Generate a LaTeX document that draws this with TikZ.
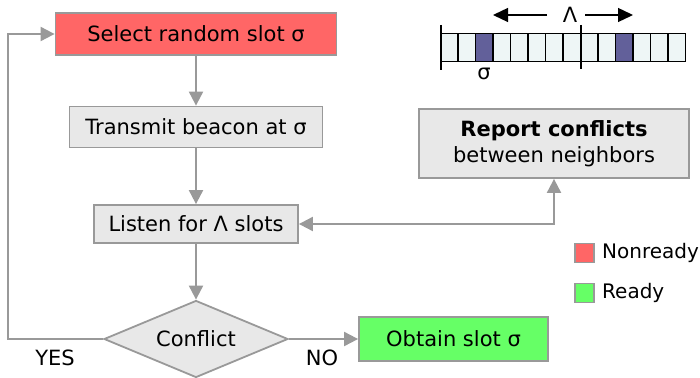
\documentclass[tikz,border=0pt]{standalone}
\usepackage{fontspec}
\setmainfont{DejaVu Sans}
\usetikzlibrary{arrows.meta,shapes.geometric}
\definecolor{edgegray}{HTML}{999999}
\definecolor{boxgray}{HTML}{E8E8E8}
\definecolor{nonready}{HTML}{FF6666}
\definecolor{ready}{HTML}{66FF66}
\definecolor{slotlight}{HTML}{EEF6F6}
\definecolor{slotdark}{HTML}{62609A}
\tikzset{
  box/.style={draw=edgegray, line width=1.8pt, fill=boxgray, inner sep=0pt, font=\fontsize{21}{25}\selectfont},
  flow/.style={draw=edgegray, line width=2pt, -{Triangle[length=14pt,width=14pt]}},
  twoway/.style={draw=edgegray, line width=2pt, {Triangle[length=14pt,width=14pt]}-{Triangle[length=14pt,width=14pt]}},
  lbl/.style={font=\fontsize{21}{25}\selectfont, inner sep=0pt},
  keytext/.style={font=\fontsize{20}{24}\selectfont, inner sep=0pt, anchor=west},
  keybox/.style={draw=edgegray, line width=1.4pt, minimum size=19pt, inner sep=0pt},
  slot/.style={draw=black, line width=1.3pt, fill=slotlight},
  tick/.style={draw=black, line width=2pt},
  lam/.style={draw=black, line width=1.3pt, -{Triangle[length=15pt,width=14pt]}}
}
\begin{document}
\begin{tikzpicture}[x=1pt,y=-1pt]
\useasboundingbox (0,0) rectangle (700,377);

% flow boxes, all centred on one vertical axis
\node[box, fill=nonready, minimum width=281pt, minimum height=42pt] (select) at (196,34) {Select random slot σ};
\node[box, minimum width=253pt, minimum height=41pt] (transmit) at (196,127) {Transmit beacon at σ};
\node[box, minimum width=204pt, minimum height=38pt] (listen) at (196,224) {Listen for Λ slots};
\node[box, diamond, aspect=2.4, minimum width=184pt, minimum height=77pt] (conflict) at (196,339) {};
\node[lbl] (conflicttext) at (conflict.center) {Conflict};
\node[box, fill=ready, minimum width=189pt, minimum height=44pt] (obtain) at (453.5,339) {Obtain slot σ};
\node[box, minimum width=270pt, minimum height=69pt, align=center] (report) at (554,143.5)
  {\textbf{Report conflicts}\\[1pt]between neighbors};

% connectors
\draw[flow] (select.south) -- (transmit.north);
\draw[flow] (transmit.south) -- (listen.north);
\draw[flow] (listen.south) -- (conflict.north);
\draw[flow] (conflict.east) -- (obtain.west);
\coordinate (loopbot) at (8,339);
\coordinate (looptop) at (8,34);
\draw[flow] (conflict.west) -- (loopbot) -- (looptop) -- (select.west);
\coordinate (bend) at (554,224);
\draw[twoway] (listen.east) -- (bend) -- (report.south);

% branch labels
\node[lbl] (yes) at (55,358) {YES};
\node[lbl] (no) at (322,358) {NO};

% legend
\node[keybox, fill=nonready] (kred) at (584.5,253) {};
\node[keytext] (tred) at (602,253) {Nonready};
\node[keybox, fill=ready] (kgreen) at (584.5,293) {};
\node[keytext] (tgreen) at (602,293) {Ready};

% slot bar
\foreach \i in {0,...,13} {
  \pgfmathsetmacro{\xa}{440.5+17.5*\i}
  \draw[slot] (\xa,33.5) rectangle ++(17.5,28);
}
\draw[slot, fill=slotdark] (475.5,33.5) rectangle ++(17.5,28);
\draw[slot, fill=slotdark] (615.5,33.5) rectangle ++(17.5,28);
\draw[tick] (440.5,25) -- (440.5,70);
\draw[tick] (580.5,25) -- (580.5,69);
\node[lbl] (sig) at (484,74) {σ};
\node[lbl] (lambda) at (570,15) {Λ};
\coordinate (lamL) at (547,15);
\coordinate (lamR) at (585,15);
\coordinate (tipL) at (493,15);
\coordinate (tipR) at (633,15);
\draw[lam] (lamL) -- (tipL);
\draw[lam] (lamR) -- (tipR);
\end{tikzpicture}
\end{document}
